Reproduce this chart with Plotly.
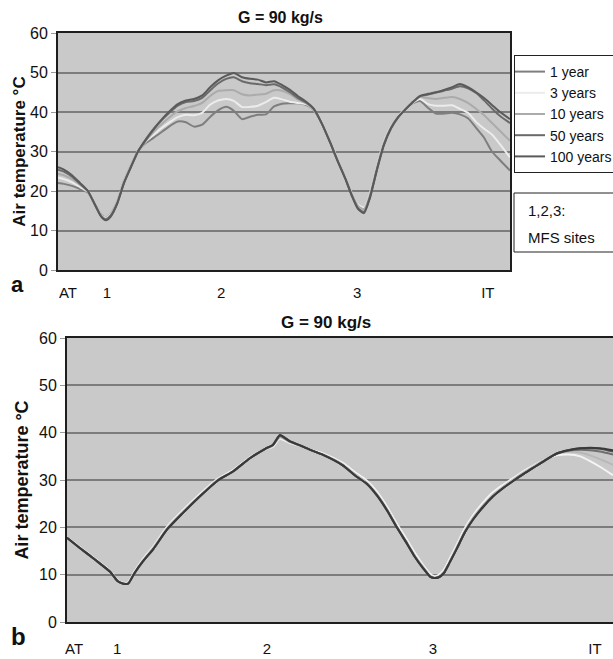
import plotly.graph_objects as go

W, H = 613, 659

# ---------------- data: panel a (top) ----------------
top_pos = [0.0, 1.3, 3.1, 4.9, 6.6, 8.4, 9.5, 10.6, 11.7, 13.1, 14.6, 16.2, 17.7, 19.5, 21.2,
           23.0, 24.8, 26.5, 28.3, 30.1, 31.9, 33.6, 35.4, 37.2, 38.9, 40.7, 42.5, 44.2, 46.0,
           47.8, 49.6, 51.3, 53.1, 54.9, 56.6, 58.4, 60.2, 61.9, 63.5, 65.0, 66.4, 67.7, 69.0,
           70.6, 72.1, 73.7, 75.2, 76.8, 78.3, 80.1, 81.9, 83.6, 85.4, 87.2, 88.9, 90.7, 92.5,
           94.2, 96.0, 97.8, 100.0]

top_1yr = [22.0, 21.8, 21.3, 20.5, 19.6, 16.2, 14.1, 13.3, 14.3, 17.3, 22.5, 26.6, 30.2, 32.2, 33.5,
           35.0, 36.5, 37.6, 37.4, 36.3, 36.8, 38.7, 40.4, 41.3, 40.3, 38.2, 38.8, 39.3, 39.4,
           41.4, 42.1, 42.2, 42.2, 41.8, 40.4, 37.1, 32.5, 27.9, 23.7, 19.4, 16.3, 15.6, 19.2,
           26.4, 32.3, 36.4, 38.8, 40.7, 42.1, 42.8, 41.0, 39.6, 39.6, 39.8, 39.4, 38.4, 36.0,
           33.6, 30.0, 27.8, 25.2]
top_3yr = [23.4, 23.0, 22.2, 21.0, 19.8, 16.1, 14.0, 13.2, 14.2, 17.2, 22.4, 26.5, 30.2, 32.6, 34.3,
           36.0, 37.5, 38.7, 39.3, 39.2, 39.8, 41.8, 42.9, 43.3, 42.8, 41.3, 41.3, 41.6, 42.5,
           43.6, 43.2, 42.6, 42.3, 42.0, 40.5, 37.2, 32.6, 28.0, 23.8, 19.5, 16.5, 15.8, 19.4,
           26.6, 32.5, 36.5, 38.9, 40.8, 42.2, 43.3, 42.0, 41.6, 41.6, 41.7, 40.8, 39.8, 37.5,
           35.8, 34.3, 31.8, 28.5]
top_10yr = [24.4, 24.0, 23.0, 21.5, 19.9, 16.0, 13.9, 13.0, 14.0, 17.0, 22.2, 26.4, 30.1, 32.8, 35.0,
            37.0, 38.8, 40.2, 41.0, 41.5, 42.3, 44.0, 45.3, 45.5, 45.5, 44.5, 44.2, 44.4, 44.6,
            45.5, 45.4, 44.5, 43.2, 42.2, 40.6, 37.1, 32.5, 27.8, 23.6, 19.3, 16.2, 15.4, 19.0,
            26.2, 32.2, 36.3, 38.8, 40.7, 42.3, 43.8, 43.5, 43.3, 43.6, 43.8, 43.3, 42.3, 40.8,
            39.3, 37.2, 35.2, 32.7]
top_50yr = [25.4, 24.9, 23.6, 21.8, 20.0, 16.0, 13.7, 12.8, 13.8, 16.9, 22.1, 26.3, 30.0, 33.0, 35.6,
            38.0, 40.0, 41.6, 42.5, 42.8, 43.6, 45.4, 47.2, 48.4, 48.8, 47.8, 47.3, 47.1, 46.8,
            47.0, 46.2, 45.0, 43.5, 42.4, 40.7, 37.0, 32.3, 27.5, 23.3, 18.9, 15.6, 14.7, 18.4,
            25.6, 31.7, 36.0, 38.6, 40.6, 42.3, 44.0, 44.4, 44.9, 45.4, 45.9, 46.5, 46.0, 44.8,
            43.0, 40.9, 39.0, 37.2]
top_100yr = [26.0, 25.4, 24.0, 22.0, 20.0, 16.0, 13.6, 12.6, 13.6, 16.8, 22.0, 26.2, 30.0, 33.2, 35.8,
             38.2, 40.3, 42.0, 42.9, 43.3, 44.2, 46.2, 48.0, 49.2, 49.9, 48.8, 48.4, 48.2, 47.5,
             47.8, 46.8, 45.6, 44.0, 42.6, 40.8, 37.0, 32.3, 27.5, 23.3, 18.8, 15.4, 14.4, 18.2,
             25.5, 31.6, 35.9, 38.6, 40.6, 42.3, 44.1, 44.6, 45.0, 45.6, 46.3, 47.1, 46.3, 45.0,
             43.6, 41.8, 40.0, 38.2]

top_tick_pos = [2.2, 10.8, 36.1, 66.2, 95.1]
top_tick_text = ["AT", "1", "2", "3", "IT"]

# ---------------- data: panel b (bottom) ----------------
bot_pos = [0.0, 2.4, 5.1, 7.9, 9.3, 10.3, 11.2, 12.3, 13.9, 15.8, 18.3, 21.2, 24.4, 27.5, 30.4,
           33.5, 36.3, 37.7, 39.0, 40.8, 42.7, 44.9, 46.9, 50.5, 52.7, 54.9, 56.8, 58.6, 60.4,
           62.3, 63.7, 65.2, 66.5, 67.2, 68.0, 69.0, 70.1, 71.4, 72.9, 74.4, 76.2, 78.0, 79.9,
           81.7, 83.5, 85.3, 87.5, 89.7, 91.8, 94.0, 95.8, 97.6, 100.0]

bot_100yr = [17.8, 15.6, 13.2, 10.6, 8.6, 8.1, 8.1, 10.2, 12.8, 15.4, 19.5, 23.0, 26.6, 29.8, 31.8,
             34.6, 36.6, 37.4, 39.5, 38.2, 37.3, 36.2, 35.3, 33.1, 31.0, 29.2, 26.7, 23.6, 20.0,
             16.5, 13.8, 11.4, 9.6, 9.3, 9.4, 10.3, 12.6, 15.5, 19.0, 21.7, 24.3, 26.5, 28.3,
             29.8, 31.2, 32.5, 34.1, 35.6, 36.3, 36.7, 36.8, 36.7, 36.3]
bot_50yr = [17.8, 15.6, 13.2, 10.6, 8.6, 8.1, 8.1, 10.2, 12.8, 15.4, 19.5, 23.0, 26.6, 29.8, 31.8,
            34.6, 36.6, 37.4, 39.4, 38.2, 37.3, 36.2, 35.3, 33.1, 31.0, 29.2, 26.7, 23.6, 20.0,
            16.5, 13.8, 11.4, 9.6, 9.3, 9.4, 10.3, 12.6, 15.5, 19.0, 21.7, 24.3, 26.5, 28.3,
            29.8, 31.2, 32.5, 34.1, 35.6, 36.3, 36.7, 36.7, 36.6, 36.0]
bot_1yr = [17.8, 15.6, 13.2, 10.6, 8.6, 8.1, 8.1, 10.2, 12.8, 15.4, 19.5, 23.0, 26.6, 29.8, 31.8,
           34.6, 36.6, 37.4, 39.3, 38.1, 37.3, 36.2, 35.3, 33.1, 31.0, 29.2, 26.7, 23.6, 20.0,
           16.5, 13.8, 11.4, 9.6, 9.3, 9.4, 10.3, 12.6, 15.5, 19.0, 21.7, 24.3, 26.5, 28.3,
           29.8, 31.2, 32.5, 34.1, 35.6, 36.2, 36.4, 36.3, 36.0, 35.4]
bot_10yr = [17.8, 15.7, 13.3, 10.7, 8.7, 8.2, 8.2, 10.4, 13.0, 15.7, 19.8, 23.3, 26.8, 30.0, 31.9,
            34.7, 36.5, 37.2, 39.0, 38.0, 37.2, 36.2, 35.4, 33.3, 31.3, 29.5, 27.0, 23.9, 20.3,
            16.8, 14.1, 11.7, 9.8, 9.4, 9.6, 10.6, 12.9, 15.9, 19.4, 22.1, 24.7, 26.9, 28.6,
            30.1, 31.5, 32.8, 34.3, 35.5, 36.0, 35.8, 35.2, 34.4, 33.2]
bot_3yr = [17.9, 15.8, 13.4, 10.8, 8.8, 8.3, 8.4, 10.6, 13.3, 16.0, 20.1, 23.6, 27.1, 30.2, 32.1,
           34.8, 36.5, 37.0, 38.7, 37.8, 37.2, 36.3, 35.6, 33.6, 31.7, 29.9, 27.5, 24.4, 20.8,
           17.3, 14.6, 12.1, 10.2, 9.7, 9.9, 11.0, 13.4, 16.4, 19.9, 22.6, 25.2, 27.4, 29.0,
           30.4, 31.8, 33.0, 34.3, 35.2, 35.4, 35.0, 34.0, 32.8, 31.0]

bot_tick_pos = [1.3, 9.2, 36.6, 67.0, 96.7]
bot_tick_text = ["AT", "1", "2", "3", "IT"]

series_names = ["1 year", "3 years", "10 years", "50 years", "100 years"]
y_ticks = [0, 10, 20, 30, 40, 50, 60]

# ---------------- styling ----------------
FONT = "Liberation Sans, Arial, sans-serif"
top_colors = ["#7e7e7e", "#ececec", "#ababab", "#6a6a6a", "#5a5a5a"]
bot_colors = {"1 year": "#6e6e6e", "3 years": "#f4f4f4", "10 years": "#b8b8b8",
              "50 years": "#555555", "100 years": "#3a3a3a"}

fig = go.Figure()

top_series = [top_1yr, top_3yr, top_10yr, top_50yr, top_100yr]
for name, ys, col in zip(series_names, top_series, top_colors):
    fig.add_trace(go.Scatter(x=top_pos, y=ys, mode="lines", name=name,
                             line=dict(color=col, width=2, shape="spline", smoothing=0.6),
                             xaxis="x", yaxis="y", showlegend=True))

bot_series = {"1 year": bot_1yr, "3 years": bot_3yr, "10 years": bot_10yr,
              "50 years": bot_50yr, "100 years": bot_100yr}
for name in ["3 years", "10 years", "1 year", "50 years", "100 years"]:
    fig.add_trace(go.Scatter(x=bot_pos, y=bot_series[name], mode="lines", name=name,
                             line=dict(color=bot_colors[name], width=2, shape="spline", smoothing=0.6),
                             xaxis="x2", yaxis="y2", showlegend=False))


def px_x(p):
    return p / W


def px_y(p):
    return 1 - p / H


common_x = dict(range=[0, 100], showgrid=False, zeroline=False, ticks="",
                showline=True, mirror=True, linecolor="#1e1e1e", linewidth=2,
                tickfont=dict(family=FONT, size=15, color="#111111"), fixedrange=True)
common_y = dict(range=[0, 60], tickvals=y_ticks, showgrid=True, gridcolor="#7c7c7c", gridwidth=1.6,
                zeroline=False, ticks="outside", ticklen=5, tickcolor="#9a9a9a", tickwidth=1,
                showline=True, mirror=True, linecolor="#1e1e1e", linewidth=2,
                tickfont=dict(family=FONT, size=16, color="#111111"), fixedrange=True)

fig.update_layout(
    width=W, height=H,
    margin=dict(l=0, r=0, t=0, b=0, autoexpand=False),
    paper_bgcolor="white", plot_bgcolor="#c9c9c9",
    font=dict(family=FONT, color="#111111"),
    xaxis=dict(common_x, domain=[px_x(58), px_x(510)], anchor="y",
               tickvals=top_tick_pos, ticktext=top_tick_text, ticklabelstandoff=8),
    yaxis=dict(common_y, domain=[px_y(270), px_y(33)], anchor="x",
               title=dict(text="<b>Air temperature °C</b>", standoff=0,
                          font=dict(family=FONT, size=17, color="#111111"))),
    xaxis2=dict(common_x, domain=[px_x(67), 1.0], anchor="y2",
                tickvals=bot_tick_pos, ticktext=bot_tick_text, ticklabelstandoff=12),
    yaxis2=dict(common_y, domain=[px_y(622), px_y(338)], anchor="x2",
                title=dict(text="<b>Air temperature °C</b>", standoff=6,
                           font=dict(family=FONT, size=18, color="#111111"))),
    legend=dict(x=px_x(514), y=px_y(55), xanchor="left", yanchor="top",
                bgcolor="white", bordercolor="#222222", borderwidth=1,
                font=dict(family=FONT, size=14, color="#111111"),
                itemwidth=30, indentation=-5, tracegroupgap=0),
    showlegend=True,
)

# titles and panel letters
ann = dict(xref="paper", yref="paper", showarrow=False, yanchor="middle")
fig.add_annotation(ann, x=px_x(280), y=px_y(18), xanchor="center",
                   text="<b>G = 90 kg/s</b>", font=dict(family=FONT, size=16, color="#111111"))
fig.add_annotation(ann, x=px_x(326), y=px_y(322), xanchor="center",
                   text="<b>G = 90 kg/s</b>", font=dict(family=FONT, size=17, color="#111111"))
fig.add_annotation(ann, x=px_x(17), y=px_y(284), xanchor="center",
                   text="<b>a</b>", font=dict(family=FONT, size=22, color="#111111"))
fig.add_annotation(ann, x=px_x(18), y=px_y(636), xanchor="center",
                   text="<b>b</b>", font=dict(family=FONT, size=24, color="#111111"))

# "MFS sites" note box
fig.add_shape(type="rect", xref="paper", yref="paper",
              x0=px_x(514), x1=px_x(618), y0=px_y(252), y1=px_y(193),
              line=dict(color="#222222", width=1), fillcolor="white", layer="above")
fig.add_annotation(ann, x=px_x(526), y=px_y(210), xanchor="left",
                   text="1,2,3:", font=dict(family=FONT, size=15, color="#111111"))
fig.add_annotation(ann, x=px_x(526), y=px_y(237), xanchor="left",
                   text="MFS sites", font=dict(family=FONT, size=15, color="#111111"))

fig.write_html("out.html", config={"displayModeBar": False},
               post_script="document.body.style.margin='0';")
